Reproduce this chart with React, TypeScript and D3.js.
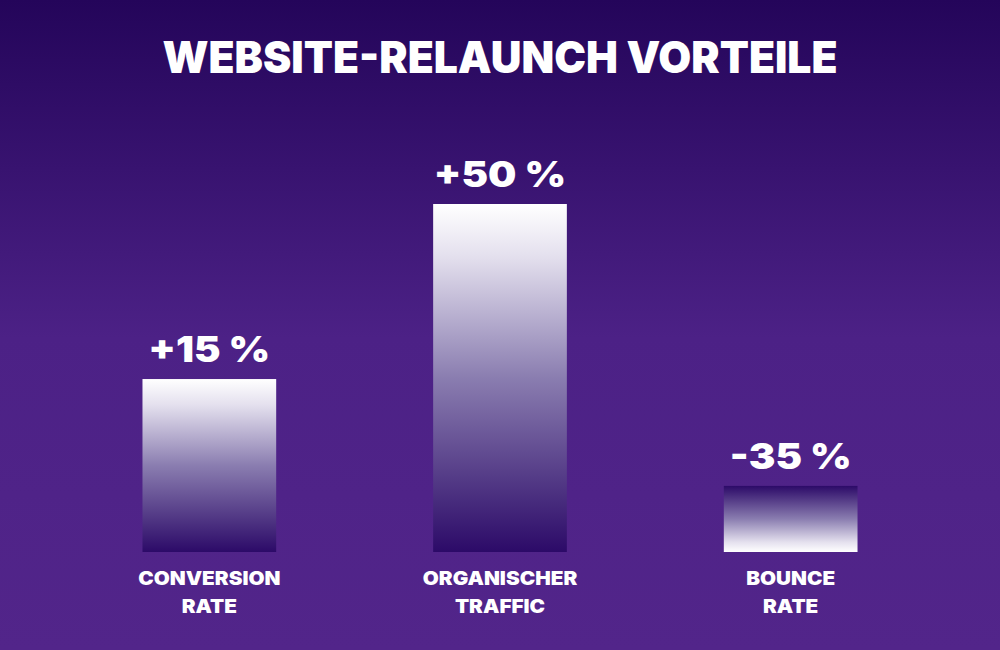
import { useEffect, useRef } from 'react';
import * as d3 from 'd3';

// ── Data ──
const categories = ['Conversion Rate', 'Organischer Traffic', 'Bounce Rate'];
const labelLines = [
  ['CONVERSION', 'RATE'],
  ['ORGANISCHER', 'TRAFFIC'],
  ['BOUNCE', 'RATE'],
];
const values = [15, 50, -35];
const valueLabels = ['+15 %', '+50 %', '-35 %'];

const W = 1000;
const H = 650;
const BASE = 552;
const MAXH = 348;
const FONT = "Inter, 'Noto Sans', sans-serif";

// widen a text to mimic the wider geometric face of the original
function widen(sel: d3.Selection<SVGTextElement, any, any, any>, k: number) {
  sel.each(function () {
    const len = this.getComputedTextLength();
    d3.select(this)
      .attr('textLength', len * k)
      .attr('lengthAdjust', 'spacingAndGlyphs');
  });
}

export default function App() {
  const ref = useRef<SVGSVGElement>(null);

  useEffect(() => {
    const svgEl = ref.current;
    if (!svgEl) return;
    const svg = d3.select(svgEl);
    svg.selectAll('*').remove();

    const defs = svg.append('defs');
    const bg = defs
      .append('linearGradient')
      .attr('id', 'bg')
      .attr('x1', 0)
      .attr('y1', 0)
      .attr('x2', 0)
      .attr('y2', 1);
    bg.append('stop').attr('offset', '0%').attr('stop-color', '#24055a');
    bg.append('stop').attr('offset', '52%').attr('stop-color', '#4c2186');
    bg.append('stop').attr('offset', '100%').attr('stop-color', '#52258a');

    const stops = [
      ['0%', '#ffffff'],
      ['15%', '#e4e0ee'],
      ['50%', '#8a7db0'],
      ['100%', '#2c0a68'],
    ];
    const up = defs
      .append('linearGradient')
      .attr('id', 'barUp')
      .attr('x1', 0)
      .attr('y1', 0)
      .attr('x2', 0)
      .attr('y2', 1);
    stops.forEach(([o, c]) => up.append('stop').attr('offset', o).attr('stop-color', c));

    const down = defs
      .append('linearGradient')
      .attr('id', 'barDown')
      .attr('x1', 0)
      .attr('y1', 1)
      .attr('x2', 0)
      .attr('y2', 0);
    stops.forEach(([o, c]) => down.append('stop').attr('offset', o).attr('stop-color', c));

    svg.append('rect').attr('width', W).attr('height', H).attr('fill', 'url(#bg)');

    svg
      .append('text')
      .attr('x', W / 2)
      .attr('y', 73)
      .attr('text-anchor', 'middle')
      .attr('fill', '#fff')
      .attr('font-family', FONT)
      .attr('font-weight', 900)
      .attr('font-size', 44)
      .attr('textLength', 675)
      .attr('lengthAdjust', 'spacingAndGlyphs')
      .text('WEBSITE-RELAUNCH VORTEILE');

    const x = d3
      .scaleBand<string>()
      .domain(categories)
      .range([64, 936])
      .paddingInner(0.54)
      .paddingOuter(0.27);

    // the picture's bar heights are not proportional to value; map through a piecewise scale
    const h = d3
      .scaleLinear()
      .domain([-35, 15, 50])
      .range([0.19 * MAXH, 0.497 * MAXH, MAXH]);

    const g = svg
      .selectAll('g.bar')
      .data(categories)
      .enter()
      .append('g')
      .attr('class', 'bar');

    g.append('rect')
      .attr('x', (d) => x(d)!)
      .attr('width', x.bandwidth())
      .attr('y', (_, i) => BASE - h(values[i]))
      .attr('height', (_, i) => h(values[i]))
      .attr('fill', (_, i) => (values[i] < 0 ? 'url(#barDown)' : 'url(#barUp)'));

    const vl = g
      .append('text')
      .attr('x', (d) => x(d)! + x.bandwidth() / 2)
      .attr('y', (_, i) => BASE - h(values[i]) - 17)
      .attr('text-anchor', 'middle')
      .attr('fill', '#fff')
      .attr('font-family', FONT)
      .attr('font-weight', 900)
      .attr('font-size', 35)
      .text((_, i) => valueLabels[i]);
    widen(vl, 1.14);

    g.each(function (d, i) {
      const cx = x(d)! + x.bandwidth() / 2;
      labelLines[i].forEach((line, j) => {
        const t = d3
          .select(this)
          .append('text')
          .attr('x', cx)
          .attr('y', 585 + j * 28)
          .attr('text-anchor', 'middle')
          .attr('fill', '#fff')
          .attr('font-family', FONT)
          .attr('font-weight', 900)
          .attr('font-size', 19)
          .text(line);
        widen(t as any, 1.09);
      });
    });
  }, []);

  return (
    <svg
      ref={ref}
      width={W}
      height={H}
      style={{ display: 'block', position: 'absolute', left: 0, top: 0 }}
    />
  );
}
